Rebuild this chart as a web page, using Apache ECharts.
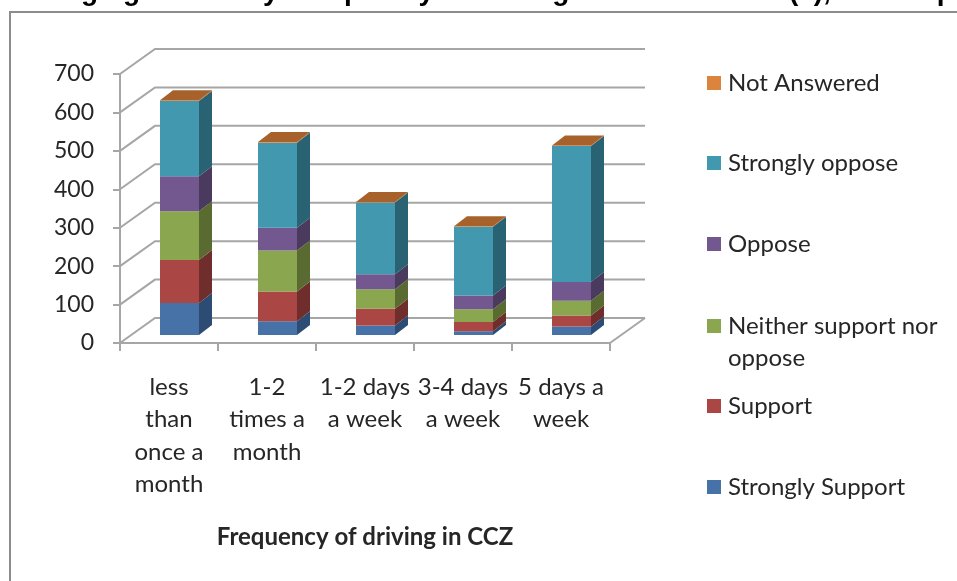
<!DOCTYPE html>
<html>
<head>
<meta charset="utf-8">
<style>
  html, body { margin: 0; padding: 0; background: #fff; }
  #chart { width: 957px; height: 581px; }
</style>
<script src="https://cdn.jsdelivr.net/npm/echarts@6/dist/echarts.min.js"></script>
</head>
<body>
<div id="chart"></div>
<script>
  // data
  const categories = ['less\nthan\nonce a\nmonth', '1-2\ntimes a\nmonth', '1-2 days\na week', '3-4 days\na week', '5 days a\nweek'];
  const stronglySupport = [83, 36, 25, 10, 22];
  const support = [112, 77, 43, 24, 29];
  const neither = [127, 107, 51, 33, 38];
  const oppose = [91, 59, 39, 36, 49];
  const stronglyOppose = [196, 221, 187, 179, 354];
  const notAnswered = [2, 2, 1, 1, 1];
  const yTicks = [0, 100, 200, 300, 400, 500, 600, 700];

  const seriesNames = ['Strongly Support', 'Support', 'Neither support nor oppose', 'Oppose', 'Strongly oppose', 'Not Answered'];
  const seriesValues = [stronglySupport, support, neither, oppose, stronglyOppose, notAnswered];
  const frontColors = ['#4672a8', '#aa4644', '#8aa64e', '#72588f', '#4198af', '#db843d'];
  const sideColors = ['#2d4c74', '#6f2d2b', '#5a6b31', '#4a3a5e', '#286273', '#a7622c'];
  const legendTops = [471, 390, 278, 228, 147, 67];

  const gridColor = '#a6a6a6';
  const textColor = '#262626';
  const bodyFont = 'Lato';

  // 3d look: offsets in pixels
  const wallDx = 35, wallDy = -25;
  const barLeft = -9, barWidth = 39, barBaseDy = -8, barDx = 13, barDy = -10;

  const myChart = echarts.init(document.getElementById('chart'));

  function renderWall(params, api) {
    const v = api.value(0);
    const box = params.coordSys;
    const y = api.coord([0, v])[1];
    const x0 = box.x, x1 = box.x + box.width;
    const children = [{
      type: 'polyline',
      shape: { points: [[x0, y], [x0 + wallDx, y + wallDy], [x1 + wallDx, y + wallDy]] },
      style: { stroke: gridColor, lineWidth: 2, fill: null }
    }];
    if (v === 0) {
      children.push({
        type: 'line',
        shape: { x1: x1, y1: y, x2: x1 + wallDx, y2: y + wallDy },
        style: { stroke: gridColor, lineWidth: 2 }
      });
    }
    return { type: 'group', children: children };
  }

  function makeBarRender(idx) {
    return function (params, api) {
      const cat = api.value(0);
      const p0 = api.coord([cat, api.value(1)]);
      const p1 = api.coord([cat, api.value(2)]);
      const xl = p0[0] + barLeft, xr = xl + barWidth;
      const yb = p0[1] + barBaseDy, yt = p1[1] + barBaseDy;
      const children = [
        { type: 'polygon', shape: { points: [[xl, yb], [xr, yb], [xr, yt], [xl, yt]] }, style: { fill: frontColors[idx] } },
        { type: 'polygon', shape: { points: [[xr, yb], [xr + barDx, yb + barDy], [xr + barDx, yt + barDy], [xr, yt]] }, style: { fill: sideColors[idx] } }
      ];
      if (idx === seriesNames.length - 1) {
        children.push({
          type: 'polygon',
          shape: { points: [[xl, yt], [xr, yt], [xr + barDx, yt + barDy], [xl + barDx, yt + barDy]] },
          style: { fill: sideColors[idx] }
        });
      }
      return { type: 'group', children: children };
    };
  }

  let seriesArr = [{
    type: 'custom',
    renderItem: renderWall,
    silent: true,
    data: yTicks.map(v => [v]),
    encode: { y: 0 },
    z: 1
  }];
  let running = categories.map(() => 0);
  seriesNames.forEach((name, idx) => {
    const rows = seriesValues[idx].map((v, c) => {
      const row = [c, running[c], running[c] + v];
      running[c] += v;
      return row;
    });
    seriesArr.push({
      name: name,
      type: 'custom',
      renderItem: makeBarRender(idx),
      data: rows,
      encode: { x: 0, y: [1, 2] },
      itemStyle: { color: frontColors[idx] },
      z: 3
    });
  });

  const option = {
    backgroundColor: '#fff',
    animation: false,
    textStyle: { fontFamily: bodyFont },
    grid: { left: 120, top: 74, width: 490, height: 269, containLabel: false },
    legend: seriesNames.map((name, idx) => ({
      data: [{ name: name, icon: 'rect' }],
      left: 707,
      top: legendTops[idx],
      orient: 'vertical',
      padding: 0,
      selectedMode: false,
      itemWidth: 14,
      itemHeight: 14,
      itemGap: 0,
      // blank first line keeps the swatch level with "Neither support nor"
      formatter: n => n === seriesNames[2] ? '\nNeither support nor\noppose' : n,
      textStyle: {
        fontFamily: bodyFont,
        fontSize: 24,
        color: textColor,
        lineHeight: 32,
        padding: [0, 0, 0, 2]
      }
    })),
    xAxis: {
      type: 'category',
      data: categories,
      axisLine: { lineStyle: { color: gridColor, width: 2 } },
      axisTick: { show: true, alignWithLabel: false, length: 8, lineStyle: { color: gridColor, width: 2 } },
      axisLabel: { interval: 0, fontFamily: bodyFont, fontSize: 24, color: textColor, lineHeight: 32.5, margin: 28 },
      name: 'Frequency of driving in CCZ',
      nameLocation: 'middle',
      nameGap: 182,
      nameTextStyle: { fontFamily: bodyFont, fontSize: 24, fontWeight: 'bold', color: textColor }
    },
    yAxis: {
      type: 'value',
      min: 0,
      max: 700,
      interval: 100,
      axisLine: { show: true, lineStyle: { color: gridColor, width: 2 } },
      axisTick: { show: true, length: 7, lineStyle: { color: gridColor, width: 2 } },
      axisLabel: { fontFamily: bodyFont, fontSize: 23, color: textColor, margin: 26, padding: [6, 0, 0, 0] },
      splitLine: { show: false }
    },
    graphic: [
      { type: 'rect', silent: true, z: -1, shape: { x: 10, y: 12, width: 1100, height: 1100 }, style: { fill: '#fff', stroke: '#8c8c8c', lineWidth: 2 } },
      { type: 'text', silent: true, z: 10, x: 11, y: -22, style: {
          text: 'Changing the fee by an open by of driving in CCZ area fee (£), overall percent',
          font: 'bold 28px "Liberation Sans"', fill: '#000'
      } }
    ],
    series: seriesArr
  };

  myChart.setOption(option);
</script>
</body>
</html>
